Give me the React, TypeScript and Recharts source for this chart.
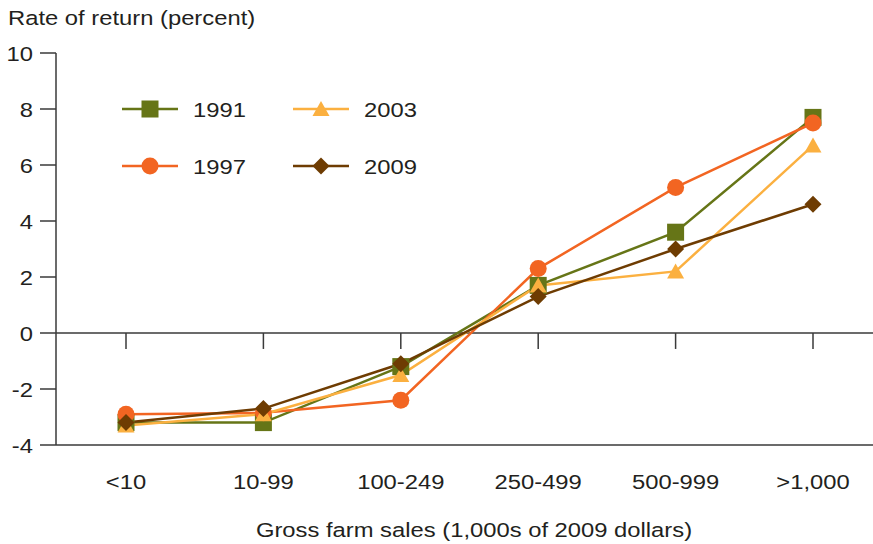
import React from 'react';
import {
  LineChart,
  Line,
  XAxis,
  YAxis,
  ReferenceLine,
  Legend
} from 'recharts';

const categories = ['<10', '10-99', '100-249', '250-499', '500-999', '>1,000'];
const returns1991 = [-3.2, -3.2, -1.2, 1.7, 3.6, 7.7];
const returns1997 = [-2.9, -2.85, -2.4, 2.3, 5.2, 7.5];
const returns2003 = [-3.3, -2.9, -1.5, 1.7, 2.2, 6.7];
const returns2009 = [-3.2, -2.7, -1.1, 1.3, 3.0, 4.6];
const yTicks = [-4, -2, 0, 2, 4, 6, 8, 10];

type Shape = 'square' | 'circle' | 'triangle' | 'diamond';

const series: { key: string; name: string; color: string; shape: Shape }[] = [
  { key: 'y1991', name: '1991', color: '#667517', shape: 'square' },
  { key: 'y1997', name: '1997', color: '#f26522', shape: 'circle' },
  { key: 'y2003', name: '2003', color: '#fbb040', shape: 'triangle' },
  { key: 'y2009', name: '2009', color: '#6e3c02', shape: 'diamond' }
];

const data = categories.map((cat, i) => ({
  cat,
  y1991: returns1991[i],
  y1997: returns1997[i],
  y2003: returns2003[i],
  y2009: returns2009[i]
}));

const FONT = '"Liberation Sans", Arial, Helvetica, sans-serif';
const FS = 20.5;
const STRETCH = 1.16; // the reference type is a little wide
const TEXT = '#231f20';
const AXIS = '#3a3a3a';

const marker = (shape: Shape, cx: number, cy: number, color: string, key?: any) => {
  if (shape === 'square') {
    return <rect key={key} x={cx - 8.5} y={cy - 8.5} width={17} height={17} fill={color} />;
  }
  if (shape === 'circle') {
    return <circle key={key} cx={cx} cy={cy} r={8.5} fill={color} />;
  }
  if (shape === 'triangle') {
    return (
      <polygon
        key={key}
        points={`${cx},${cy - 8} ${cx + 8.5},${cy + 7} ${cx - 8.5},${cy + 7}`}
        fill={color}
      />
    );
  }
  return (
    <polygon
      key={key}
      points={`${cx},${cy - 8.5} ${cx + 8.5},${cy} ${cx},${cy + 8.5} ${cx - 8.5},${cy}`}
      fill={color}
    />
  );
};

const WideText = ({ x, y, anchor, children }: { x: number; y: number; anchor: string; children: any }) => (
  <text
    transform={`translate(${x},${y}) scale(${STRETCH},1)`}
    textAnchor={anchor}
    fontSize={FS}
    fontFamily={FONT}
    fill={TEXT}
  >
    {children}
  </text>
);

const XTick = (props: any) => {
  const { x, y, payload } = props;
  return <WideText x={x} y={y + 14} anchor="middle">{payload.value}</WideText>;
};

const YTick = (props: any) => {
  const { x, y, payload } = props;
  return <WideText x={x} y={y + 7.5} anchor="end">{payload.value}</WideText>;
};

// legend drawn as two rows x two columns inside the plot
const LegendBox = () => {
  const cols = [12, 183];
  const rows = [24, 81];
  const order = [
    [series[0], series[2]],
    [series[1], series[3]]
  ];
  return (
    <svg width={340} height={100} style={{ display: 'block' }}>
      {order.map((row, r) =>
        row.map((s, c) => (
          <g key={s.key}>
            <line
              x1={cols[c]}
              x2={cols[c] + 56}
              y1={rows[r]}
              y2={rows[r]}
              stroke={s.color}
              strokeWidth={2.5}
            />
            {marker(s.shape, cols[c] + 28, rows[r], s.color)}
            <WideText x={cols[c] + 71} y={rows[r] + 8} anchor="start">{s.name}</WideText>
          </g>
        ))
      )}
    </svg>
  );
};

const textDiv: React.CSSProperties = {
  position: 'absolute',
  fontSize: FS,
  lineHeight: `${FS}px`,
  fontFamily: FONT,
  color: TEXT,
  whiteSpace: 'nowrap'
};

const App: React.FC = () => {
  return (
    <div style={{ position: 'absolute', left: 0, top: 0, width: 873, height: 544, background: '#fff' }}>
      <div
        style={{
          ...textDiv,
          left: 8,
          top: 8,
          transform: `scaleX(${STRETCH})`,
          transformOrigin: '0 0'
        }}
      >
        Rate of return (percent)
      </div>
      <LineChart
        width={873}
        height={544}
        data={data}
        margin={{ top: 53, right: 0, bottom: 0, left: 0 }}
      >
        <XAxis
          dataKey="cat"
          height={99}
          padding={{ left: 70, right: 60 }}
          axisLine={{ stroke: AXIS, strokeWidth: 1.5 }}
          tickLine={false}
          tickSize={0}
          tickMargin={30}
          tick={<XTick />}
        />
        <YAxis
          width={56}
          domain={[-4, 10]}
          ticks={yTicks}
          interval={0}
          axisLine={{ stroke: AXIS, strokeWidth: 1.5 }}
          tickLine={{ stroke: AXIS, strokeWidth: 1.5 }}
          tickSize={16}
          tickMargin={7}
          tick={<YTick />}
        />
        <ReferenceLine y={0} stroke={AXIS} strokeWidth={1.5} />
        {categories.map(cat => (
          <ReferenceLine
            key={cat}
            segment={[
              { x: cat, y: 0 },
              { x: cat, y: -0.57 }
            ]}
            stroke={AXIS}
            strokeWidth={1.5}
          />
        ))}
        <Legend
          verticalAlign="middle"
          align="center"
          layout="horizontal"
          wrapperStyle={{ left: 110, top: 85, width: 340, height: 100 }}
          content={() => <LegendBox />}
        />
        {series.map(s => (
          <Line
            key={s.key}
            type="linear"
            dataKey={s.key}
            name={s.name}
            stroke={s.color}
            strokeWidth={2.5}
            isAnimationActive={false}
            dot={(p: any) => marker(s.shape, p.cx, p.cy, s.color, `${s.key}-${p.index}`)}
            activeDot={false}
          />
        ))}
      </LineChart>
      <div
        style={{
          ...textDiv,
          left: 0,
          width: 948,
          top: 520,
          textAlign: 'center',
          transform: `scaleX(${STRETCH})`,
          transformOrigin: '474px 0'
        }}
      >
        Gross farm sales (1,000s of 2009 dollars)
      </div>
    </div>
  );
};

export default App;
